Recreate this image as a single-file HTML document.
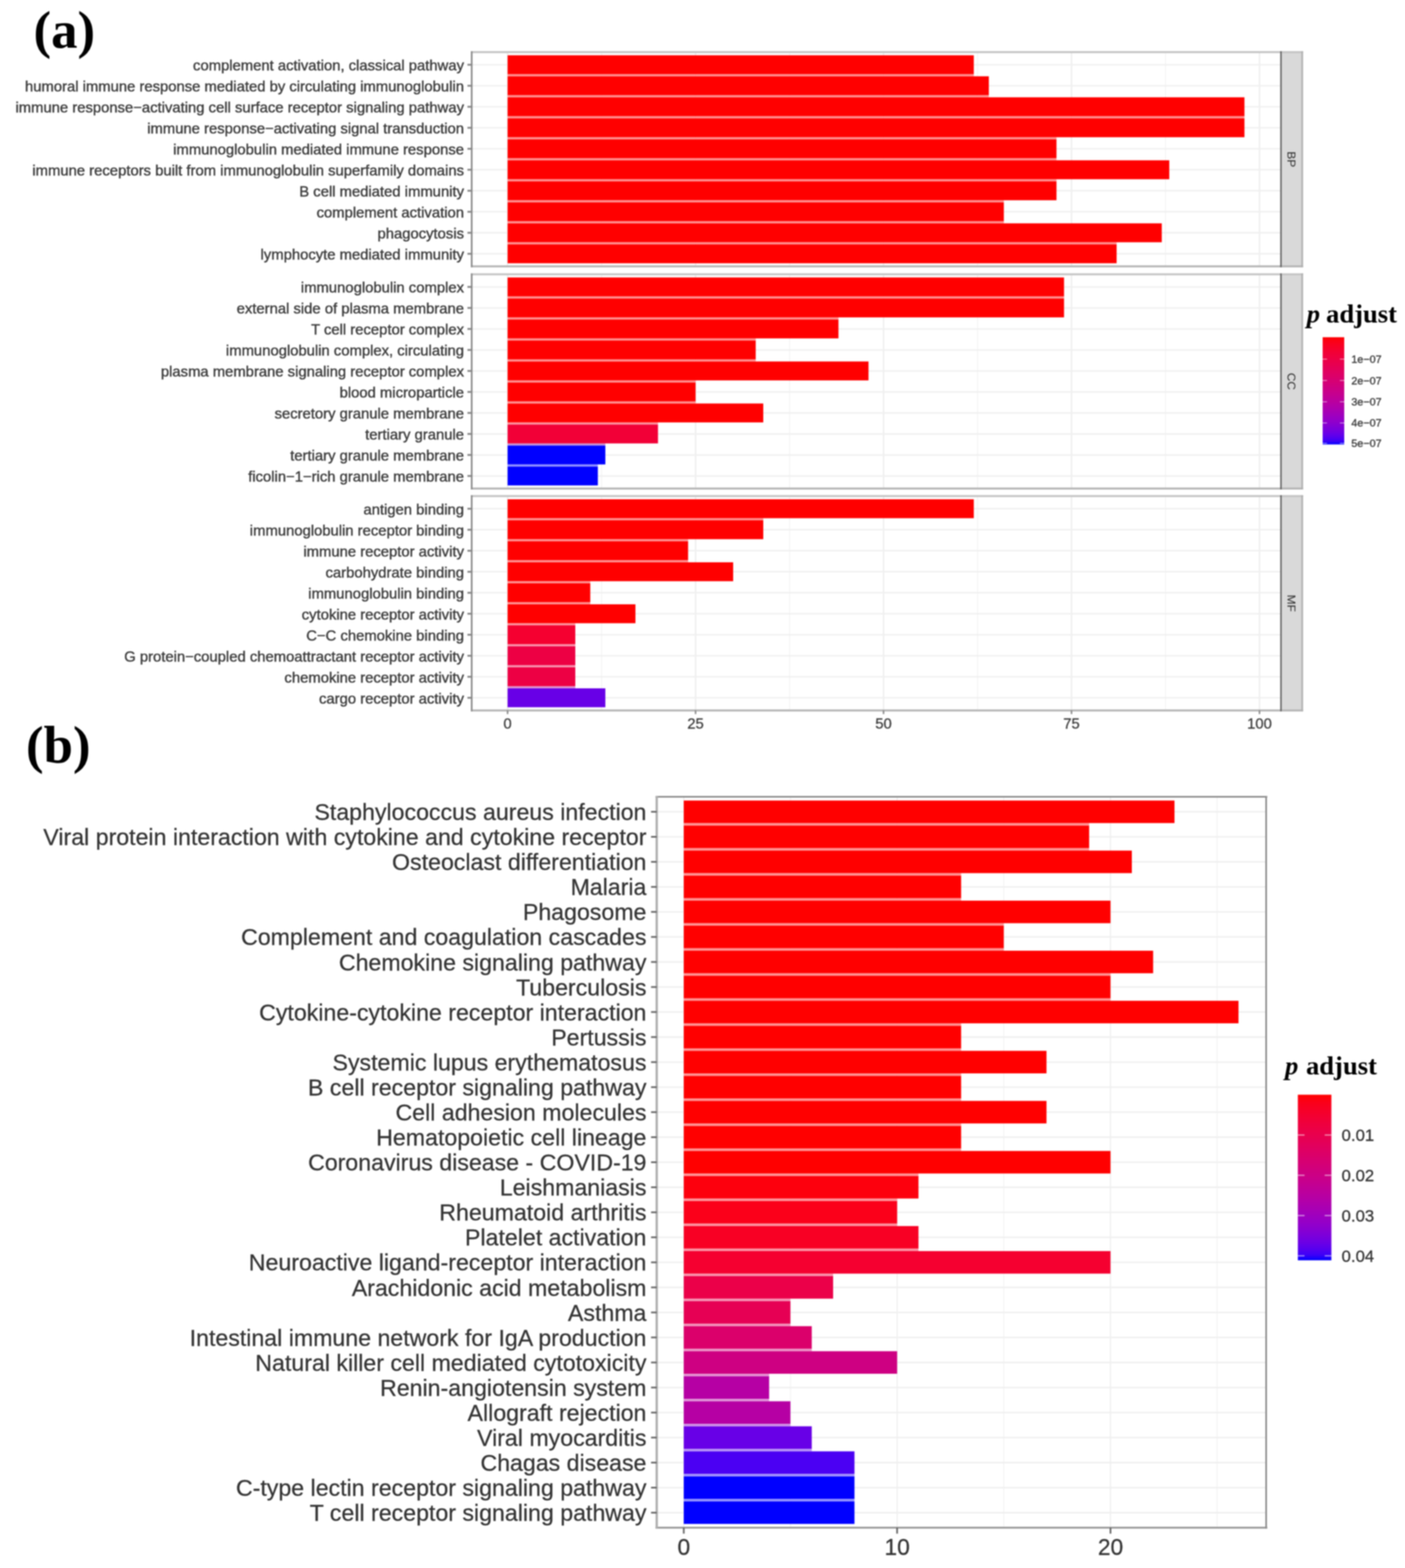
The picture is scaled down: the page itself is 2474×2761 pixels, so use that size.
<!DOCTYPE html>
<html><head><meta charset="utf-8"><title>GO and KEGG enrichment</title>
<style>html,body{margin:0;padding:0;background:#fff;}body{width:2474px;height:2761px;overflow:hidden;}svg{display:block;filter:blur(1px);}</style>
</head><body>
<svg width="2474" height="2761" viewBox="0 0 2474 2761"><defs><linearGradient id="ga" x1="0" y1="0" x2="0" y2="1"><stop offset="0.000" stop-color="#FF0000"/><stop offset="0.033" stop-color="#FC0013"/><stop offset="0.067" stop-color="#F90020"/><stop offset="0.100" stop-color="#F6002A"/><stop offset="0.133" stop-color="#F30033"/><stop offset="0.167" stop-color="#F0003C"/><stop offset="0.200" stop-color="#ED0044"/><stop offset="0.233" stop-color="#EA004C"/><stop offset="0.267" stop-color="#E60053"/><stop offset="0.300" stop-color="#E3005B"/><stop offset="0.333" stop-color="#DF0063"/><stop offset="0.367" stop-color="#DB006A"/><stop offset="0.400" stop-color="#D70072"/><stop offset="0.433" stop-color="#D30079"/><stop offset="0.467" stop-color="#CE0081"/><stop offset="0.500" stop-color="#CA0088"/><stop offset="0.533" stop-color="#C50090"/><stop offset="0.567" stop-color="#BF0098"/><stop offset="0.600" stop-color="#BA009F"/><stop offset="0.633" stop-color="#B400A7"/><stop offset="0.667" stop-color="#AD00AF"/><stop offset="0.700" stop-color="#A600B7"/><stop offset="0.733" stop-color="#9E00BF"/><stop offset="0.767" stop-color="#9600C7"/><stop offset="0.800" stop-color="#8D00CE"/><stop offset="0.833" stop-color="#8200D6"/><stop offset="0.867" stop-color="#7600DE"/><stop offset="0.900" stop-color="#6800E7"/><stop offset="0.933" stop-color="#5600EF"/><stop offset="0.967" stop-color="#3E00F7"/><stop offset="1.000" stop-color="#0000FF"/></linearGradient><linearGradient id="gb" x1="0" y1="0" x2="0" y2="1"><stop offset="0.000" stop-color="#FF0000"/><stop offset="0.033" stop-color="#FC0013"/><stop offset="0.067" stop-color="#F90020"/><stop offset="0.100" stop-color="#F6002A"/><stop offset="0.133" stop-color="#F30033"/><stop offset="0.167" stop-color="#F0003C"/><stop offset="0.200" stop-color="#ED0044"/><stop offset="0.233" stop-color="#EA004C"/><stop offset="0.267" stop-color="#E60053"/><stop offset="0.300" stop-color="#E3005B"/><stop offset="0.333" stop-color="#DF0063"/><stop offset="0.367" stop-color="#DB006A"/><stop offset="0.400" stop-color="#D70072"/><stop offset="0.433" stop-color="#D30079"/><stop offset="0.467" stop-color="#CE0081"/><stop offset="0.500" stop-color="#CA0088"/><stop offset="0.533" stop-color="#C50090"/><stop offset="0.567" stop-color="#BF0098"/><stop offset="0.600" stop-color="#BA009F"/><stop offset="0.633" stop-color="#B400A7"/><stop offset="0.667" stop-color="#AD00AF"/><stop offset="0.700" stop-color="#A600B7"/><stop offset="0.733" stop-color="#9E00BF"/><stop offset="0.767" stop-color="#9600C7"/><stop offset="0.800" stop-color="#8D00CE"/><stop offset="0.833" stop-color="#8200D6"/><stop offset="0.867" stop-color="#7600DE"/><stop offset="0.900" stop-color="#6800E7"/><stop offset="0.933" stop-color="#5600EF"/><stop offset="0.967" stop-color="#3E00F7"/><stop offset="1.000" stop-color="#0000FF"/></linearGradient></defs><rect width="2474" height="2761" fill="#fff"/><rect x="830.6" y="91.8" width="1425.0" height="377.3" fill="#fff"/>
<line x1="1059.3" y1="91.8" x2="1059.3" y2="469.1" stroke="#EDEDED" stroke-width="1.1"/>
<line x1="1390.3" y1="91.8" x2="1390.3" y2="469.1" stroke="#EDEDED" stroke-width="1.1"/>
<line x1="1721.3" y1="91.8" x2="1721.3" y2="469.1" stroke="#EDEDED" stroke-width="1.1"/>
<line x1="2052.3" y1="91.8" x2="2052.3" y2="469.1" stroke="#EDEDED" stroke-width="1.1"/>
<line x1="893.8" y1="91.8" x2="893.8" y2="469.1" stroke="#EDEDED" stroke-width="2.4"/>
<line x1="1224.8" y1="91.8" x2="1224.8" y2="469.1" stroke="#EDEDED" stroke-width="2.4"/>
<line x1="1555.8" y1="91.8" x2="1555.8" y2="469.1" stroke="#EDEDED" stroke-width="2.4"/>
<line x1="1886.8" y1="91.8" x2="1886.8" y2="469.1" stroke="#EDEDED" stroke-width="2.4"/>
<line x1="2217.8" y1="91.8" x2="2217.8" y2="469.1" stroke="#EDEDED" stroke-width="2.4"/>
<line x1="830.6" y1="114.0" x2="2255.6" y2="114.0" stroke="#F0F0F0" stroke-width="2.6"/>
<line x1="830.6" y1="151.0" x2="2255.6" y2="151.0" stroke="#F0F0F0" stroke-width="2.6"/>
<line x1="830.6" y1="188.0" x2="2255.6" y2="188.0" stroke="#F0F0F0" stroke-width="2.6"/>
<line x1="830.6" y1="225.0" x2="2255.6" y2="225.0" stroke="#F0F0F0" stroke-width="2.6"/>
<line x1="830.6" y1="262.0" x2="2255.6" y2="262.0" stroke="#F0F0F0" stroke-width="2.6"/>
<line x1="830.6" y1="298.9" x2="2255.6" y2="298.9" stroke="#F0F0F0" stroke-width="2.6"/>
<line x1="830.6" y1="335.9" x2="2255.6" y2="335.9" stroke="#F0F0F0" stroke-width="2.6"/>
<line x1="830.6" y1="372.9" x2="2255.6" y2="372.9" stroke="#F0F0F0" stroke-width="2.6"/>
<line x1="830.6" y1="409.9" x2="2255.6" y2="409.9" stroke="#F0F0F0" stroke-width="2.6"/>
<line x1="830.6" y1="446.9" x2="2255.6" y2="446.9" stroke="#F0F0F0" stroke-width="2.6"/>
<rect x="893.8" y="130.64" width="820.9" height="3.70" fill="#FF9494"/>
<rect x="893.8" y="167.63" width="847.4" height="3.70" fill="#FF9494"/>
<rect x="893.8" y="204.62" width="1297.5" height="3.70" fill="#FF9494"/>
<rect x="893.8" y="241.61" width="966.5" height="3.70" fill="#FF9494"/>
<rect x="893.8" y="278.60" width="966.5" height="3.70" fill="#FF9494"/>
<rect x="893.8" y="315.59" width="966.5" height="3.70" fill="#FF9494"/>
<rect x="893.8" y="352.58" width="873.8" height="3.70" fill="#FF9494"/>
<rect x="893.8" y="389.57" width="873.8" height="3.70" fill="#FF9494"/>
<rect x="893.8" y="426.56" width="1072.4" height="3.70" fill="#FF9494"/>
<rect x="893.8" y="97.35" width="820.9" height="33.29" fill="#FF0000"/>
<rect x="893.8" y="134.34" width="847.4" height="33.29" fill="#FF0000"/>
<rect x="893.8" y="171.33" width="1297.5" height="33.29" fill="#FF0000"/>
<rect x="893.8" y="208.32" width="1297.5" height="33.29" fill="#FF0000"/>
<rect x="893.8" y="245.31" width="966.5" height="33.29" fill="#FF0000"/>
<rect x="893.8" y="282.30" width="1165.1" height="33.29" fill="#FF0000"/>
<rect x="893.8" y="319.29" width="966.5" height="33.29" fill="#FF0000"/>
<rect x="893.8" y="356.28" width="873.8" height="33.29" fill="#FF0000"/>
<rect x="893.8" y="393.27" width="1151.9" height="33.29" fill="#FF0000"/>
<rect x="893.8" y="430.26" width="1072.4" height="33.29" fill="#FF0000"/>
<rect x="2255.6" y="91.8" width="37.4" height="377.3" fill="#D9D9D9"/>
<line x1="829.1" y1="91.8" x2="2294.5" y2="91.8" stroke="#C4C4C4" stroke-width="3.5"/>
<line x1="829.1" y1="469.1" x2="2294.5" y2="469.1" stroke="#B4B4B4" stroke-width="3.5"/>
<line x1="830.6" y1="90.3" x2="830.6" y2="470.6" stroke="#8C8C8C" stroke-width="3"/>
<line x1="2255.6" y1="90.3" x2="2255.6" y2="470.6" stroke="#5E5E5E" stroke-width="2.5"/>
<line x1="2293.0" y1="90.3" x2="2293.0" y2="470.6" stroke="#B0B0B0" stroke-width="3"/>
<text x="0" y="0" transform="translate(2274.3,280.4) rotate(90)" font-family="'Liberation Sans', Arial, Helvetica, sans-serif" font-size="21" fill="#2E2E2E" text-anchor="middle" dy="7.5">BP</text>
<line x1="823.1" y1="114.0" x2="830.6" y2="114.0" stroke="#858585" stroke-width="3.2"/>
<text x="817" y="124.2" font-family="'Liberation Sans', Arial, Helvetica, sans-serif" font-size="26.1" fill="#3C3C3C" stroke="#3C3C3C" stroke-width="0.6" text-anchor="end">complement activation, classical pathway</text>
<line x1="823.1" y1="151.0" x2="830.6" y2="151.0" stroke="#858585" stroke-width="3.2"/>
<text x="817" y="161.2" font-family="'Liberation Sans', Arial, Helvetica, sans-serif" font-size="26.1" fill="#3C3C3C" stroke="#3C3C3C" stroke-width="0.6" text-anchor="end">humoral immune response mediated by circulating immunoglobulin</text>
<line x1="823.1" y1="188.0" x2="830.6" y2="188.0" stroke="#858585" stroke-width="3.2"/>
<text x="817" y="198.2" font-family="'Liberation Sans', Arial, Helvetica, sans-serif" font-size="26.1" fill="#3C3C3C" stroke="#3C3C3C" stroke-width="0.6" text-anchor="end">immune response−activating cell surface receptor signaling pathway</text>
<line x1="823.1" y1="225.0" x2="830.6" y2="225.0" stroke="#858585" stroke-width="3.2"/>
<text x="817" y="235.2" font-family="'Liberation Sans', Arial, Helvetica, sans-serif" font-size="26.1" fill="#3C3C3C" stroke="#3C3C3C" stroke-width="0.6" text-anchor="end">immune response−activating signal transduction</text>
<line x1="823.1" y1="262.0" x2="830.6" y2="262.0" stroke="#858585" stroke-width="3.2"/>
<text x="817" y="272.2" font-family="'Liberation Sans', Arial, Helvetica, sans-serif" font-size="26.1" fill="#3C3C3C" stroke="#3C3C3C" stroke-width="0.6" text-anchor="end">immunoglobulin mediated immune response</text>
<line x1="823.1" y1="298.9" x2="830.6" y2="298.9" stroke="#858585" stroke-width="3.2"/>
<text x="817" y="309.1" font-family="'Liberation Sans', Arial, Helvetica, sans-serif" font-size="26.1" fill="#3C3C3C" stroke="#3C3C3C" stroke-width="0.6" text-anchor="end">immune receptors built from immunoglobulin superfamily domains</text>
<line x1="823.1" y1="335.9" x2="830.6" y2="335.9" stroke="#858585" stroke-width="3.2"/>
<text x="817" y="346.1" font-family="'Liberation Sans', Arial, Helvetica, sans-serif" font-size="26.1" fill="#3C3C3C" stroke="#3C3C3C" stroke-width="0.6" text-anchor="end">B cell mediated immunity</text>
<line x1="823.1" y1="372.9" x2="830.6" y2="372.9" stroke="#858585" stroke-width="3.2"/>
<text x="817" y="383.1" font-family="'Liberation Sans', Arial, Helvetica, sans-serif" font-size="26.1" fill="#3C3C3C" stroke="#3C3C3C" stroke-width="0.6" text-anchor="end">complement activation</text>
<line x1="823.1" y1="409.9" x2="830.6" y2="409.9" stroke="#858585" stroke-width="3.2"/>
<text x="817" y="420.1" font-family="'Liberation Sans', Arial, Helvetica, sans-serif" font-size="26.1" fill="#3C3C3C" stroke="#3C3C3C" stroke-width="0.6" text-anchor="end">phagocytosis</text>
<line x1="823.1" y1="446.9" x2="830.6" y2="446.9" stroke="#858585" stroke-width="3.2"/>
<text x="817" y="457.1" font-family="'Liberation Sans', Arial, Helvetica, sans-serif" font-size="26.1" fill="#3C3C3C" stroke="#3C3C3C" stroke-width="0.6" text-anchor="end">lymphocyte mediated immunity</text>
<rect x="830.6" y="483.0" width="1425.0" height="377.3" fill="#fff"/>
<line x1="1059.3" y1="483.0" x2="1059.3" y2="860.3" stroke="#EDEDED" stroke-width="1.1"/>
<line x1="1390.3" y1="483.0" x2="1390.3" y2="860.3" stroke="#EDEDED" stroke-width="1.1"/>
<line x1="1721.3" y1="483.0" x2="1721.3" y2="860.3" stroke="#EDEDED" stroke-width="1.1"/>
<line x1="2052.3" y1="483.0" x2="2052.3" y2="860.3" stroke="#EDEDED" stroke-width="1.1"/>
<line x1="893.8" y1="483.0" x2="893.8" y2="860.3" stroke="#EDEDED" stroke-width="2.4"/>
<line x1="1224.8" y1="483.0" x2="1224.8" y2="860.3" stroke="#EDEDED" stroke-width="2.4"/>
<line x1="1555.8" y1="483.0" x2="1555.8" y2="860.3" stroke="#EDEDED" stroke-width="2.4"/>
<line x1="1886.8" y1="483.0" x2="1886.8" y2="860.3" stroke="#EDEDED" stroke-width="2.4"/>
<line x1="2217.8" y1="483.0" x2="2217.8" y2="860.3" stroke="#EDEDED" stroke-width="2.4"/>
<line x1="830.6" y1="505.2" x2="2255.6" y2="505.2" stroke="#F0F0F0" stroke-width="2.6"/>
<line x1="830.6" y1="542.2" x2="2255.6" y2="542.2" stroke="#F0F0F0" stroke-width="2.6"/>
<line x1="830.6" y1="579.2" x2="2255.6" y2="579.2" stroke="#F0F0F0" stroke-width="2.6"/>
<line x1="830.6" y1="616.2" x2="2255.6" y2="616.2" stroke="#F0F0F0" stroke-width="2.6"/>
<line x1="830.6" y1="653.2" x2="2255.6" y2="653.2" stroke="#F0F0F0" stroke-width="2.6"/>
<line x1="830.6" y1="690.1" x2="2255.6" y2="690.1" stroke="#F0F0F0" stroke-width="2.6"/>
<line x1="830.6" y1="727.1" x2="2255.6" y2="727.1" stroke="#F0F0F0" stroke-width="2.6"/>
<line x1="830.6" y1="764.1" x2="2255.6" y2="764.1" stroke="#F0F0F0" stroke-width="2.6"/>
<line x1="830.6" y1="801.1" x2="2255.6" y2="801.1" stroke="#F0F0F0" stroke-width="2.6"/>
<line x1="830.6" y1="838.1" x2="2255.6" y2="838.1" stroke="#F0F0F0" stroke-width="2.6"/>
<rect x="893.8" y="521.84" width="979.8" height="3.70" fill="#FF9494"/>
<rect x="893.8" y="558.83" width="582.6" height="3.70" fill="#FF9494"/>
<rect x="893.8" y="595.82" width="436.9" height="3.70" fill="#FF9494"/>
<rect x="893.8" y="632.81" width="436.9" height="3.70" fill="#FF9494"/>
<rect x="893.8" y="669.80" width="331.0" height="3.70" fill="#FF9494"/>
<rect x="893.8" y="706.79" width="331.0" height="3.70" fill="#FF9494"/>
<rect x="893.8" y="743.78" width="264.8" height="3.70" fill="#FC949F"/>
<rect x="893.8" y="780.77" width="172.1" height="3.70" fill="#C794D5"/>
<rect x="893.8" y="817.76" width="158.9" height="3.70" fill="#9494FF"/>
<rect x="893.8" y="488.55" width="979.8" height="33.29" fill="#FF0000"/>
<rect x="893.8" y="525.54" width="979.8" height="33.29" fill="#FF0000"/>
<rect x="893.8" y="562.53" width="582.6" height="33.29" fill="#FF0000"/>
<rect x="893.8" y="599.52" width="436.9" height="33.29" fill="#FF0000"/>
<rect x="893.8" y="636.51" width="635.5" height="33.29" fill="#FF0000"/>
<rect x="893.8" y="673.50" width="331.0" height="33.29" fill="#FF0000"/>
<rect x="893.8" y="710.49" width="450.2" height="33.29" fill="#FF0000"/>
<rect x="893.8" y="747.48" width="264.8" height="33.29" fill="#F20037"/>
<rect x="893.8" y="784.47" width="172.1" height="33.29" fill="#0000FF"/>
<rect x="893.8" y="821.46" width="158.9" height="33.29" fill="#0000FF"/>
<rect x="2255.6" y="483.0" width="37.4" height="377.3" fill="#D9D9D9"/>
<line x1="829.1" y1="483.0" x2="2294.5" y2="483.0" stroke="#C4C4C4" stroke-width="3.5"/>
<line x1="829.1" y1="860.3" x2="2294.5" y2="860.3" stroke="#B4B4B4" stroke-width="3.5"/>
<line x1="830.6" y1="481.5" x2="830.6" y2="861.8" stroke="#8C8C8C" stroke-width="3"/>
<line x1="2255.6" y1="481.5" x2="2255.6" y2="861.8" stroke="#5E5E5E" stroke-width="2.5"/>
<line x1="2293.0" y1="481.5" x2="2293.0" y2="861.8" stroke="#B0B0B0" stroke-width="3"/>
<text x="0" y="0" transform="translate(2274.3,671.6) rotate(90)" font-family="'Liberation Sans', Arial, Helvetica, sans-serif" font-size="21" fill="#2E2E2E" text-anchor="middle" dy="7.5">CC</text>
<line x1="823.1" y1="505.2" x2="830.6" y2="505.2" stroke="#858585" stroke-width="3.2"/>
<text x="817" y="515.4" font-family="'Liberation Sans', Arial, Helvetica, sans-serif" font-size="26.1" fill="#3C3C3C" stroke="#3C3C3C" stroke-width="0.6" text-anchor="end">immunoglobulin complex</text>
<line x1="823.1" y1="542.2" x2="830.6" y2="542.2" stroke="#858585" stroke-width="3.2"/>
<text x="817" y="552.4" font-family="'Liberation Sans', Arial, Helvetica, sans-serif" font-size="26.1" fill="#3C3C3C" stroke="#3C3C3C" stroke-width="0.6" text-anchor="end">external side of plasma membrane</text>
<line x1="823.1" y1="579.2" x2="830.6" y2="579.2" stroke="#858585" stroke-width="3.2"/>
<text x="817" y="589.4" font-family="'Liberation Sans', Arial, Helvetica, sans-serif" font-size="26.1" fill="#3C3C3C" stroke="#3C3C3C" stroke-width="0.6" text-anchor="end">T cell receptor complex</text>
<line x1="823.1" y1="616.2" x2="830.6" y2="616.2" stroke="#858585" stroke-width="3.2"/>
<text x="817" y="626.4" font-family="'Liberation Sans', Arial, Helvetica, sans-serif" font-size="26.1" fill="#3C3C3C" stroke="#3C3C3C" stroke-width="0.6" text-anchor="end">immunoglobulin complex, circulating</text>
<line x1="823.1" y1="653.2" x2="830.6" y2="653.2" stroke="#858585" stroke-width="3.2"/>
<text x="817" y="663.4" font-family="'Liberation Sans', Arial, Helvetica, sans-serif" font-size="26.1" fill="#3C3C3C" stroke="#3C3C3C" stroke-width="0.6" text-anchor="end">plasma membrane signaling receptor complex</text>
<line x1="823.1" y1="690.1" x2="830.6" y2="690.1" stroke="#858585" stroke-width="3.2"/>
<text x="817" y="700.3" font-family="'Liberation Sans', Arial, Helvetica, sans-serif" font-size="26.1" fill="#3C3C3C" stroke="#3C3C3C" stroke-width="0.6" text-anchor="end">blood microparticle</text>
<line x1="823.1" y1="727.1" x2="830.6" y2="727.1" stroke="#858585" stroke-width="3.2"/>
<text x="817" y="737.3" font-family="'Liberation Sans', Arial, Helvetica, sans-serif" font-size="26.1" fill="#3C3C3C" stroke="#3C3C3C" stroke-width="0.6" text-anchor="end">secretory granule membrane</text>
<line x1="823.1" y1="764.1" x2="830.6" y2="764.1" stroke="#858585" stroke-width="3.2"/>
<text x="817" y="774.3" font-family="'Liberation Sans', Arial, Helvetica, sans-serif" font-size="26.1" fill="#3C3C3C" stroke="#3C3C3C" stroke-width="0.6" text-anchor="end">tertiary granule</text>
<line x1="823.1" y1="801.1" x2="830.6" y2="801.1" stroke="#858585" stroke-width="3.2"/>
<text x="817" y="811.3" font-family="'Liberation Sans', Arial, Helvetica, sans-serif" font-size="26.1" fill="#3C3C3C" stroke="#3C3C3C" stroke-width="0.6" text-anchor="end">tertiary granule membrane</text>
<line x1="823.1" y1="838.1" x2="830.6" y2="838.1" stroke="#858585" stroke-width="3.2"/>
<text x="817" y="848.3" font-family="'Liberation Sans', Arial, Helvetica, sans-serif" font-size="26.1" fill="#3C3C3C" stroke="#3C3C3C" stroke-width="0.6" text-anchor="end">ficolin−1−rich granule membrane</text>
<rect x="830.6" y="873.6" width="1425.0" height="377.3" fill="#fff"/>
<line x1="1059.3" y1="873.6" x2="1059.3" y2="1250.9" stroke="#EDEDED" stroke-width="1.1"/>
<line x1="1390.3" y1="873.6" x2="1390.3" y2="1250.9" stroke="#EDEDED" stroke-width="1.1"/>
<line x1="1721.3" y1="873.6" x2="1721.3" y2="1250.9" stroke="#EDEDED" stroke-width="1.1"/>
<line x1="2052.3" y1="873.6" x2="2052.3" y2="1250.9" stroke="#EDEDED" stroke-width="1.1"/>
<line x1="893.8" y1="873.6" x2="893.8" y2="1250.9" stroke="#EDEDED" stroke-width="2.4"/>
<line x1="1224.8" y1="873.6" x2="1224.8" y2="1250.9" stroke="#EDEDED" stroke-width="2.4"/>
<line x1="1555.8" y1="873.6" x2="1555.8" y2="1250.9" stroke="#EDEDED" stroke-width="2.4"/>
<line x1="1886.8" y1="873.6" x2="1886.8" y2="1250.9" stroke="#EDEDED" stroke-width="2.4"/>
<line x1="2217.8" y1="873.6" x2="2217.8" y2="1250.9" stroke="#EDEDED" stroke-width="2.4"/>
<line x1="830.6" y1="895.8" x2="2255.6" y2="895.8" stroke="#F0F0F0" stroke-width="2.6"/>
<line x1="830.6" y1="932.8" x2="2255.6" y2="932.8" stroke="#F0F0F0" stroke-width="2.6"/>
<line x1="830.6" y1="969.8" x2="2255.6" y2="969.8" stroke="#F0F0F0" stroke-width="2.6"/>
<line x1="830.6" y1="1006.8" x2="2255.6" y2="1006.8" stroke="#F0F0F0" stroke-width="2.6"/>
<line x1="830.6" y1="1043.8" x2="2255.6" y2="1043.8" stroke="#F0F0F0" stroke-width="2.6"/>
<line x1="830.6" y1="1080.7" x2="2255.6" y2="1080.7" stroke="#F0F0F0" stroke-width="2.6"/>
<line x1="830.6" y1="1117.7" x2="2255.6" y2="1117.7" stroke="#F0F0F0" stroke-width="2.6"/>
<line x1="830.6" y1="1154.7" x2="2255.6" y2="1154.7" stroke="#F0F0F0" stroke-width="2.6"/>
<line x1="830.6" y1="1191.7" x2="2255.6" y2="1191.7" stroke="#F0F0F0" stroke-width="2.6"/>
<line x1="830.6" y1="1228.7" x2="2255.6" y2="1228.7" stroke="#F0F0F0" stroke-width="2.6"/>
<rect x="893.8" y="912.44" width="450.2" height="3.70" fill="#FF9494"/>
<rect x="893.8" y="949.43" width="317.8" height="3.70" fill="#FF9494"/>
<rect x="893.8" y="986.42" width="317.8" height="3.70" fill="#FF9494"/>
<rect x="893.8" y="1023.41" width="145.6" height="3.70" fill="#FF9494"/>
<rect x="893.8" y="1060.40" width="145.6" height="3.70" fill="#FF9494"/>
<rect x="893.8" y="1097.39" width="119.2" height="3.70" fill="#FD949E"/>
<rect x="893.8" y="1134.38" width="119.2" height="3.70" fill="#F994AC"/>
<rect x="893.8" y="1171.37" width="119.2" height="3.70" fill="#F794B0"/>
<rect x="893.8" y="1208.36" width="119.2" height="3.70" fill="#DC94D3"/>
<rect x="893.8" y="879.15" width="820.9" height="33.29" fill="#FF0000"/>
<rect x="893.8" y="916.14" width="450.2" height="33.29" fill="#FF0000"/>
<rect x="893.8" y="953.13" width="317.8" height="33.29" fill="#FF0000"/>
<rect x="893.8" y="990.12" width="397.2" height="33.29" fill="#FF0000"/>
<rect x="893.8" y="1027.11" width="145.6" height="33.29" fill="#FF0000"/>
<rect x="893.8" y="1064.10" width="225.1" height="33.29" fill="#FF0000"/>
<rect x="893.8" y="1101.09" width="119.2" height="33.29" fill="#F50030"/>
<rect x="893.8" y="1138.08" width="119.2" height="33.29" fill="#ED0044"/>
<rect x="893.8" y="1175.07" width="119.2" height="33.29" fill="#ED0044"/>
<rect x="893.8" y="1212.06" width="172.1" height="33.29" fill="#6800E7"/>
<rect x="2255.6" y="873.6" width="37.4" height="377.3" fill="#D9D9D9"/>
<line x1="829.1" y1="873.6" x2="2294.5" y2="873.6" stroke="#C4C4C4" stroke-width="3.5"/>
<line x1="829.1" y1="1250.9" x2="2294.5" y2="1250.9" stroke="#B4B4B4" stroke-width="3.5"/>
<line x1="830.6" y1="872.1" x2="830.6" y2="1252.4" stroke="#8C8C8C" stroke-width="3"/>
<line x1="2255.6" y1="872.1" x2="2255.6" y2="1252.4" stroke="#5E5E5E" stroke-width="2.5"/>
<line x1="2293.0" y1="872.1" x2="2293.0" y2="1252.4" stroke="#B0B0B0" stroke-width="3"/>
<text x="0" y="0" transform="translate(2274.3,1062.2) rotate(90)" font-family="'Liberation Sans', Arial, Helvetica, sans-serif" font-size="21" fill="#2E2E2E" text-anchor="middle" dy="7.5">MF</text>
<line x1="823.1" y1="895.8" x2="830.6" y2="895.8" stroke="#858585" stroke-width="3.2"/>
<text x="817" y="906.0" font-family="'Liberation Sans', Arial, Helvetica, sans-serif" font-size="26.1" fill="#3C3C3C" stroke="#3C3C3C" stroke-width="0.6" text-anchor="end">antigen binding</text>
<line x1="823.1" y1="932.8" x2="830.6" y2="932.8" stroke="#858585" stroke-width="3.2"/>
<text x="817" y="943.0" font-family="'Liberation Sans', Arial, Helvetica, sans-serif" font-size="26.1" fill="#3C3C3C" stroke="#3C3C3C" stroke-width="0.6" text-anchor="end">immunoglobulin receptor binding</text>
<line x1="823.1" y1="969.8" x2="830.6" y2="969.8" stroke="#858585" stroke-width="3.2"/>
<text x="817" y="980.0" font-family="'Liberation Sans', Arial, Helvetica, sans-serif" font-size="26.1" fill="#3C3C3C" stroke="#3C3C3C" stroke-width="0.6" text-anchor="end">immune receptor activity</text>
<line x1="823.1" y1="1006.8" x2="830.6" y2="1006.8" stroke="#858585" stroke-width="3.2"/>
<text x="817" y="1017.0" font-family="'Liberation Sans', Arial, Helvetica, sans-serif" font-size="26.1" fill="#3C3C3C" stroke="#3C3C3C" stroke-width="0.6" text-anchor="end">carbohydrate binding</text>
<line x1="823.1" y1="1043.8" x2="830.6" y2="1043.8" stroke="#858585" stroke-width="3.2"/>
<text x="817" y="1054.0" font-family="'Liberation Sans', Arial, Helvetica, sans-serif" font-size="26.1" fill="#3C3C3C" stroke="#3C3C3C" stroke-width="0.6" text-anchor="end">immunoglobulin binding</text>
<line x1="823.1" y1="1080.7" x2="830.6" y2="1080.7" stroke="#858585" stroke-width="3.2"/>
<text x="817" y="1090.9" font-family="'Liberation Sans', Arial, Helvetica, sans-serif" font-size="26.1" fill="#3C3C3C" stroke="#3C3C3C" stroke-width="0.6" text-anchor="end">cytokine receptor activity</text>
<line x1="823.1" y1="1117.7" x2="830.6" y2="1117.7" stroke="#858585" stroke-width="3.2"/>
<text x="817" y="1127.9" font-family="'Liberation Sans', Arial, Helvetica, sans-serif" font-size="26.1" fill="#3C3C3C" stroke="#3C3C3C" stroke-width="0.6" text-anchor="end">C−C chemokine binding</text>
<line x1="823.1" y1="1154.7" x2="830.6" y2="1154.7" stroke="#858585" stroke-width="3.2"/>
<text x="817" y="1164.9" font-family="'Liberation Sans', Arial, Helvetica, sans-serif" font-size="26.1" fill="#3C3C3C" stroke="#3C3C3C" stroke-width="0.6" text-anchor="end">G protein−coupled chemoattractant receptor activity</text>
<line x1="823.1" y1="1191.7" x2="830.6" y2="1191.7" stroke="#858585" stroke-width="3.2"/>
<text x="817" y="1201.9" font-family="'Liberation Sans', Arial, Helvetica, sans-serif" font-size="26.1" fill="#3C3C3C" stroke="#3C3C3C" stroke-width="0.6" text-anchor="end">chemokine receptor activity</text>
<line x1="823.1" y1="1228.7" x2="830.6" y2="1228.7" stroke="#858585" stroke-width="3.2"/>
<text x="817" y="1238.9" font-family="'Liberation Sans', Arial, Helvetica, sans-serif" font-size="26.1" fill="#3C3C3C" stroke="#3C3C3C" stroke-width="0.6" text-anchor="end">cargo receptor activity</text>
<line x1="893.8" y1="1250.9" x2="893.8" y2="1257.4" stroke="#858585" stroke-width="2.6"/>
<text x="893.8" y="1283" font-family="'Liberation Sans', Arial, Helvetica, sans-serif" font-size="26.1" fill="#3C3C3C" stroke="#3C3C3C" stroke-width="0.45" text-anchor="middle">0</text>
<line x1="1224.8" y1="1250.9" x2="1224.8" y2="1257.4" stroke="#858585" stroke-width="2.6"/>
<text x="1224.8" y="1283" font-family="'Liberation Sans', Arial, Helvetica, sans-serif" font-size="26.1" fill="#3C3C3C" stroke="#3C3C3C" stroke-width="0.45" text-anchor="middle">25</text>
<line x1="1555.8" y1="1250.9" x2="1555.8" y2="1257.4" stroke="#858585" stroke-width="2.6"/>
<text x="1555.8" y="1283" font-family="'Liberation Sans', Arial, Helvetica, sans-serif" font-size="26.1" fill="#3C3C3C" stroke="#3C3C3C" stroke-width="0.45" text-anchor="middle">50</text>
<line x1="1886.8" y1="1250.9" x2="1886.8" y2="1257.4" stroke="#858585" stroke-width="2.6"/>
<text x="1886.8" y="1283" font-family="'Liberation Sans', Arial, Helvetica, sans-serif" font-size="26.1" fill="#3C3C3C" stroke="#3C3C3C" stroke-width="0.45" text-anchor="middle">75</text>
<line x1="2217.8" y1="1250.9" x2="2217.8" y2="1257.4" stroke="#858585" stroke-width="2.6"/>
<text x="2217.8" y="1283" font-family="'Liberation Sans', Arial, Helvetica, sans-serif" font-size="26.1" fill="#3C3C3C" stroke="#3C3C3C" stroke-width="0.45" text-anchor="middle">100</text>
<text y="567.6" font-family="'Liberation Serif', 'Times New Roman', serif" font-size="46.8" font-weight="bold" fill="#000"><tspan x="2300.9" font-style="italic">p </tspan><tspan x="2335.0">adjust</tspan></text>
<rect x="2329" y="593.8" width="38" height="188.8" fill="url(#ga)"/>
<line x1="2329" y1="632.4" x2="2336.6" y2="632.4" stroke="#fff" stroke-opacity="0.6" stroke-width="1.5"/>
<line x1="2359.4" y1="632.4" x2="2367" y2="632.4" stroke="#fff" stroke-opacity="0.6" stroke-width="1.5"/>
<text x="2379.5" y="638.9" font-family="'Liberation Sans', Arial, Helvetica, sans-serif" font-size="19" fill="#3A3A3A" stroke="#3A3A3A" stroke-width="0.5">1e−07</text>
<line x1="2329" y1="670.0" x2="2336.6" y2="670.0" stroke="#fff" stroke-opacity="0.6" stroke-width="1.5"/>
<line x1="2359.4" y1="670.0" x2="2367" y2="670.0" stroke="#fff" stroke-opacity="0.6" stroke-width="1.5"/>
<text x="2379.5" y="676.5" font-family="'Liberation Sans', Arial, Helvetica, sans-serif" font-size="19" fill="#3A3A3A" stroke="#3A3A3A" stroke-width="0.5">2e−07</text>
<line x1="2329" y1="707.5" x2="2336.6" y2="707.5" stroke="#fff" stroke-opacity="0.6" stroke-width="1.5"/>
<line x1="2359.4" y1="707.5" x2="2367" y2="707.5" stroke="#fff" stroke-opacity="0.6" stroke-width="1.5"/>
<text x="2379.5" y="714.0" font-family="'Liberation Sans', Arial, Helvetica, sans-serif" font-size="19" fill="#3A3A3A" stroke="#3A3A3A" stroke-width="0.5">3e−07</text>
<line x1="2329" y1="744.7" x2="2336.6" y2="744.7" stroke="#fff" stroke-opacity="0.6" stroke-width="1.5"/>
<line x1="2359.4" y1="744.7" x2="2367" y2="744.7" stroke="#fff" stroke-opacity="0.6" stroke-width="1.5"/>
<text x="2379.5" y="751.2" font-family="'Liberation Sans', Arial, Helvetica, sans-serif" font-size="19" fill="#3A3A3A" stroke="#3A3A3A" stroke-width="0.5">4e−07</text>
<line x1="2329" y1="780.6" x2="2336.6" y2="780.6" stroke="#fff" stroke-opacity="0.6" stroke-width="1.5"/>
<line x1="2359.4" y1="780.6" x2="2367" y2="780.6" stroke="#fff" stroke-opacity="0.6" stroke-width="1.5"/>
<text x="2379.5" y="787.1" font-family="'Liberation Sans', Arial, Helvetica, sans-serif" font-size="19" fill="#3A3A3A" stroke="#3A3A3A" stroke-width="0.5">5e−07</text>
<rect x="1156.4" y="1403.0" width="1073.1" height="1287.0" fill="#fff"/>
<line x1="1391.8" y1="1403.0" x2="1391.8" y2="2690.0" stroke="#EDEDED" stroke-width="1.1"/>
<line x1="1767.5" y1="1403.0" x2="1767.5" y2="2690.0" stroke="#EDEDED" stroke-width="1.1"/>
<line x1="2143.2" y1="1403.0" x2="2143.2" y2="2690.0" stroke="#EDEDED" stroke-width="1.1"/>
<line x1="1204.0" y1="1403.0" x2="1204.0" y2="2690.0" stroke="#EDEDED" stroke-width="1.8"/>
<line x1="1579.7" y1="1403.0" x2="1579.7" y2="2690.0" stroke="#EDEDED" stroke-width="1.8"/>
<line x1="1955.4" y1="1403.0" x2="1955.4" y2="2690.0" stroke="#EDEDED" stroke-width="1.8"/>
<line x1="1156.4" y1="1429.4" x2="2229.5" y2="1429.4" stroke="#EFEFEF" stroke-width="2.6"/>
<line x1="1156.4" y1="1473.5" x2="2229.5" y2="1473.5" stroke="#EFEFEF" stroke-width="2.6"/>
<line x1="1156.4" y1="1517.6" x2="2229.5" y2="1517.6" stroke="#EFEFEF" stroke-width="2.6"/>
<line x1="1156.4" y1="1561.7" x2="2229.5" y2="1561.7" stroke="#EFEFEF" stroke-width="2.6"/>
<line x1="1156.4" y1="1605.7" x2="2229.5" y2="1605.7" stroke="#EFEFEF" stroke-width="2.6"/>
<line x1="1156.4" y1="1649.8" x2="2229.5" y2="1649.8" stroke="#EFEFEF" stroke-width="2.6"/>
<line x1="1156.4" y1="1693.9" x2="2229.5" y2="1693.9" stroke="#EFEFEF" stroke-width="2.6"/>
<line x1="1156.4" y1="1738.0" x2="2229.5" y2="1738.0" stroke="#EFEFEF" stroke-width="2.6"/>
<line x1="1156.4" y1="1782.0" x2="2229.5" y2="1782.0" stroke="#EFEFEF" stroke-width="2.6"/>
<line x1="1156.4" y1="1826.1" x2="2229.5" y2="1826.1" stroke="#EFEFEF" stroke-width="2.6"/>
<line x1="1156.4" y1="1870.2" x2="2229.5" y2="1870.2" stroke="#EFEFEF" stroke-width="2.6"/>
<line x1="1156.4" y1="1914.3" x2="2229.5" y2="1914.3" stroke="#EFEFEF" stroke-width="2.6"/>
<line x1="1156.4" y1="1958.3" x2="2229.5" y2="1958.3" stroke="#EFEFEF" stroke-width="2.6"/>
<line x1="1156.4" y1="2002.4" x2="2229.5" y2="2002.4" stroke="#EFEFEF" stroke-width="2.6"/>
<line x1="1156.4" y1="2046.5" x2="2229.5" y2="2046.5" stroke="#EFEFEF" stroke-width="2.6"/>
<line x1="1156.4" y1="2090.6" x2="2229.5" y2="2090.6" stroke="#EFEFEF" stroke-width="2.6"/>
<line x1="1156.4" y1="2134.7" x2="2229.5" y2="2134.7" stroke="#EFEFEF" stroke-width="2.6"/>
<line x1="1156.4" y1="2178.7" x2="2229.5" y2="2178.7" stroke="#EFEFEF" stroke-width="2.6"/>
<line x1="1156.4" y1="2222.8" x2="2229.5" y2="2222.8" stroke="#EFEFEF" stroke-width="2.6"/>
<line x1="1156.4" y1="2266.9" x2="2229.5" y2="2266.9" stroke="#EFEFEF" stroke-width="2.6"/>
<line x1="1156.4" y1="2311.0" x2="2229.5" y2="2311.0" stroke="#EFEFEF" stroke-width="2.6"/>
<line x1="1156.4" y1="2355.0" x2="2229.5" y2="2355.0" stroke="#EFEFEF" stroke-width="2.6"/>
<line x1="1156.4" y1="2399.1" x2="2229.5" y2="2399.1" stroke="#EFEFEF" stroke-width="2.6"/>
<line x1="1156.4" y1="2443.2" x2="2229.5" y2="2443.2" stroke="#EFEFEF" stroke-width="2.6"/>
<line x1="1156.4" y1="2487.3" x2="2229.5" y2="2487.3" stroke="#EFEFEF" stroke-width="2.6"/>
<line x1="1156.4" y1="2531.3" x2="2229.5" y2="2531.3" stroke="#EFEFEF" stroke-width="2.6"/>
<line x1="1156.4" y1="2575.4" x2="2229.5" y2="2575.4" stroke="#EFEFEF" stroke-width="2.6"/>
<line x1="1156.4" y1="2619.5" x2="2229.5" y2="2619.5" stroke="#EFEFEF" stroke-width="2.6"/>
<line x1="1156.4" y1="2663.6" x2="2229.5" y2="2663.6" stroke="#EFEFEF" stroke-width="2.6"/>
<rect x="1204.0" y="1449.28" width="713.8" height="4.41" fill="#FF9494"/>
<rect x="1204.0" y="1493.35" width="713.8" height="4.41" fill="#FF9494"/>
<rect x="1204.0" y="1537.43" width="488.4" height="4.41" fill="#FF9494"/>
<rect x="1204.0" y="1581.51" width="488.4" height="4.41" fill="#FF9494"/>
<rect x="1204.0" y="1625.58" width="563.5" height="4.41" fill="#FF9494"/>
<rect x="1204.0" y="1669.66" width="563.5" height="4.41" fill="#FF9494"/>
<rect x="1204.0" y="1713.73" width="751.4" height="4.41" fill="#FF9494"/>
<rect x="1204.0" y="1757.81" width="751.4" height="4.41" fill="#FF9494"/>
<rect x="1204.0" y="1801.88" width="488.4" height="4.41" fill="#FF9494"/>
<rect x="1204.0" y="1845.96" width="488.4" height="4.41" fill="#FF9494"/>
<rect x="1204.0" y="1890.03" width="488.4" height="4.41" fill="#FF9494"/>
<rect x="1204.0" y="1934.11" width="488.4" height="4.41" fill="#FF9494"/>
<rect x="1204.0" y="1978.18" width="488.4" height="4.41" fill="#FF9494"/>
<rect x="1204.0" y="2022.26" width="488.4" height="4.41" fill="#FF9494"/>
<rect x="1204.0" y="2066.33" width="413.3" height="4.41" fill="#FF9497"/>
<rect x="1204.0" y="2110.41" width="375.7" height="4.41" fill="#FE949C"/>
<rect x="1204.0" y="2154.48" width="375.7" height="4.41" fill="#FD94A1"/>
<rect x="1204.0" y="2198.56" width="413.3" height="4.41" fill="#FB94A6"/>
<rect x="1204.0" y="2242.64" width="263.0" height="4.41" fill="#F994AD"/>
<rect x="1204.0" y="2286.71" width="187.8" height="4.41" fill="#F694B5"/>
<rect x="1204.0" y="2330.79" width="187.8" height="4.41" fill="#F294BC"/>
<rect x="1204.0" y="2374.86" width="225.4" height="4.41" fill="#ED94C6"/>
<rect x="1204.0" y="2418.94" width="150.3" height="4.41" fill="#E594D2"/>
<rect x="1204.0" y="2463.01" width="150.3" height="4.41" fill="#E094D9"/>
<rect x="1204.0" y="2507.09" width="187.8" height="4.41" fill="#D094E7"/>
<rect x="1204.0" y="2551.16" width="225.4" height="4.41" fill="#B994F7"/>
<rect x="1204.0" y="2595.24" width="300.6" height="4.41" fill="#A494FC"/>
<rect x="1204.0" y="2639.31" width="300.6" height="4.41" fill="#9494FF"/>
<rect x="1204.0" y="1409.61" width="864.1" height="39.67" fill="#FF0000"/>
<rect x="1204.0" y="1453.69" width="713.8" height="39.67" fill="#FF0000"/>
<rect x="1204.0" y="1497.76" width="789.0" height="39.67" fill="#FF0000"/>
<rect x="1204.0" y="1541.84" width="488.4" height="39.67" fill="#FF0000"/>
<rect x="1204.0" y="1585.91" width="751.4" height="39.67" fill="#FF0000"/>
<rect x="1204.0" y="1629.99" width="563.5" height="39.67" fill="#FF0000"/>
<rect x="1204.0" y="1674.06" width="826.5" height="39.67" fill="#FF0000"/>
<rect x="1204.0" y="1718.14" width="751.4" height="39.67" fill="#FF0000"/>
<rect x="1204.0" y="1762.21" width="976.8" height="39.67" fill="#FF0000"/>
<rect x="1204.0" y="1806.29" width="488.4" height="39.67" fill="#FF0000"/>
<rect x="1204.0" y="1850.36" width="638.7" height="39.67" fill="#FF0000"/>
<rect x="1204.0" y="1894.44" width="488.4" height="39.67" fill="#FF0000"/>
<rect x="1204.0" y="1938.52" width="638.7" height="39.67" fill="#FF0000"/>
<rect x="1204.0" y="1982.59" width="488.4" height="39.67" fill="#FF0000"/>
<rect x="1204.0" y="2026.67" width="751.4" height="39.67" fill="#FF0000"/>
<rect x="1204.0" y="2070.74" width="413.3" height="39.67" fill="#FD000D"/>
<rect x="1204.0" y="2114.82" width="375.7" height="39.67" fill="#FB001A"/>
<rect x="1204.0" y="2158.89" width="413.3" height="39.67" fill="#F80024"/>
<rect x="1204.0" y="2202.97" width="751.4" height="39.67" fill="#F50030"/>
<rect x="1204.0" y="2247.04" width="263.0" height="39.67" fill="#EB0049"/>
<rect x="1204.0" y="2291.12" width="187.8" height="39.67" fill="#E60054"/>
<rect x="1204.0" y="2335.19" width="225.4" height="39.67" fill="#DB006B"/>
<rect x="1204.0" y="2379.27" width="375.7" height="39.67" fill="#CE0082"/>
<rect x="1204.0" y="2423.34" width="150.3" height="39.67" fill="#B600A4"/>
<rect x="1204.0" y="2467.42" width="187.8" height="39.67" fill="#B600A4"/>
<rect x="1204.0" y="2511.49" width="225.4" height="39.67" fill="#6800E7"/>
<rect x="1204.0" y="2555.57" width="300.6" height="39.67" fill="#4B00F3"/>
<rect x="1204.0" y="2599.65" width="300.6" height="39.67" fill="#0000FF"/>
<rect x="1204.0" y="2643.72" width="300.6" height="39.67" fill="#0000FF"/>
<line x1="1154.4" y1="1403.0" x2="2231.5" y2="1403.0" stroke="#7A7A7A" stroke-width="2.6"/>
<line x1="1154.4" y1="2690.0" x2="2231.5" y2="2690.0" stroke="#8E8E8E" stroke-width="3"/>
<line x1="1156.4" y1="1401.7" x2="1156.4" y2="2691.5" stroke="#ADADAD" stroke-width="4"/>
<line x1="2229.5" y1="1401.7" x2="2229.5" y2="2691.5" stroke="#8E8E8E" stroke-width="3"/>
<line x1="1146.4" y1="1429.4" x2="1156.4" y2="1429.4" stroke="#666" stroke-width="3"/>
<text x="1138.3" y="1444.0" font-family="'Liberation Sans', Arial, Helvetica, sans-serif" font-size="40.77" fill="#333333" stroke="#333333" stroke-width="0.4" text-anchor="end">Staphylococcus aureus infection</text>
<line x1="1146.4" y1="1473.5" x2="1156.4" y2="1473.5" stroke="#666" stroke-width="3"/>
<text x="1138.3" y="1488.1" font-family="'Liberation Sans', Arial, Helvetica, sans-serif" font-size="40.77" fill="#333333" stroke="#333333" stroke-width="0.4" text-anchor="end">Viral protein interaction with cytokine and cytokine receptor</text>
<line x1="1146.4" y1="1517.6" x2="1156.4" y2="1517.6" stroke="#666" stroke-width="3"/>
<text x="1138.3" y="1532.2" font-family="'Liberation Sans', Arial, Helvetica, sans-serif" font-size="40.77" fill="#333333" stroke="#333333" stroke-width="0.4" text-anchor="end">Osteoclast differentiation</text>
<line x1="1146.4" y1="1561.7" x2="1156.4" y2="1561.7" stroke="#666" stroke-width="3"/>
<text x="1138.3" y="1576.3" font-family="'Liberation Sans', Arial, Helvetica, sans-serif" font-size="40.77" fill="#333333" stroke="#333333" stroke-width="0.4" text-anchor="end">Malaria</text>
<line x1="1146.4" y1="1605.7" x2="1156.4" y2="1605.7" stroke="#666" stroke-width="3"/>
<text x="1138.3" y="1620.3" font-family="'Liberation Sans', Arial, Helvetica, sans-serif" font-size="40.77" fill="#333333" stroke="#333333" stroke-width="0.4" text-anchor="end">Phagosome</text>
<line x1="1146.4" y1="1649.8" x2="1156.4" y2="1649.8" stroke="#666" stroke-width="3"/>
<text x="1138.3" y="1664.4" font-family="'Liberation Sans', Arial, Helvetica, sans-serif" font-size="40.77" fill="#333333" stroke="#333333" stroke-width="0.4" text-anchor="end">Complement and coagulation cascades</text>
<line x1="1146.4" y1="1693.9" x2="1156.4" y2="1693.9" stroke="#666" stroke-width="3"/>
<text x="1138.3" y="1708.5" font-family="'Liberation Sans', Arial, Helvetica, sans-serif" font-size="40.77" fill="#333333" stroke="#333333" stroke-width="0.4" text-anchor="end">Chemokine signaling pathway</text>
<line x1="1146.4" y1="1738.0" x2="1156.4" y2="1738.0" stroke="#666" stroke-width="3"/>
<text x="1138.3" y="1752.6" font-family="'Liberation Sans', Arial, Helvetica, sans-serif" font-size="40.77" fill="#333333" stroke="#333333" stroke-width="0.4" text-anchor="end">Tuberculosis</text>
<line x1="1146.4" y1="1782.0" x2="1156.4" y2="1782.0" stroke="#666" stroke-width="3"/>
<text x="1138.3" y="1796.6" font-family="'Liberation Sans', Arial, Helvetica, sans-serif" font-size="40.77" fill="#333333" stroke="#333333" stroke-width="0.4" text-anchor="end">Cytokine-cytokine receptor interaction</text>
<line x1="1146.4" y1="1826.1" x2="1156.4" y2="1826.1" stroke="#666" stroke-width="3"/>
<text x="1138.3" y="1840.7" font-family="'Liberation Sans', Arial, Helvetica, sans-serif" font-size="40.77" fill="#333333" stroke="#333333" stroke-width="0.4" text-anchor="end">Pertussis</text>
<line x1="1146.4" y1="1870.2" x2="1156.4" y2="1870.2" stroke="#666" stroke-width="3"/>
<text x="1138.3" y="1884.8" font-family="'Liberation Sans', Arial, Helvetica, sans-serif" font-size="40.77" fill="#333333" stroke="#333333" stroke-width="0.4" text-anchor="end">Systemic lupus erythematosus</text>
<line x1="1146.4" y1="1914.3" x2="1156.4" y2="1914.3" stroke="#666" stroke-width="3"/>
<text x="1138.3" y="1928.9" font-family="'Liberation Sans', Arial, Helvetica, sans-serif" font-size="40.77" fill="#333333" stroke="#333333" stroke-width="0.4" text-anchor="end">B cell receptor signaling pathway</text>
<line x1="1146.4" y1="1958.3" x2="1156.4" y2="1958.3" stroke="#666" stroke-width="3"/>
<text x="1138.3" y="1972.9" font-family="'Liberation Sans', Arial, Helvetica, sans-serif" font-size="40.77" fill="#333333" stroke="#333333" stroke-width="0.4" text-anchor="end">Cell adhesion molecules</text>
<line x1="1146.4" y1="2002.4" x2="1156.4" y2="2002.4" stroke="#666" stroke-width="3"/>
<text x="1138.3" y="2017.0" font-family="'Liberation Sans', Arial, Helvetica, sans-serif" font-size="40.77" fill="#333333" stroke="#333333" stroke-width="0.4" text-anchor="end">Hematopoietic cell lineage</text>
<line x1="1146.4" y1="2046.5" x2="1156.4" y2="2046.5" stroke="#666" stroke-width="3"/>
<text x="1138.3" y="2061.1" font-family="'Liberation Sans', Arial, Helvetica, sans-serif" font-size="40.77" fill="#333333" stroke="#333333" stroke-width="0.4" text-anchor="end">Coronavirus disease - COVID-19</text>
<line x1="1146.4" y1="2090.6" x2="1156.4" y2="2090.6" stroke="#666" stroke-width="3"/>
<text x="1138.3" y="2105.2" font-family="'Liberation Sans', Arial, Helvetica, sans-serif" font-size="40.77" fill="#333333" stroke="#333333" stroke-width="0.4" text-anchor="end">Leishmaniasis</text>
<line x1="1146.4" y1="2134.7" x2="1156.4" y2="2134.7" stroke="#666" stroke-width="3"/>
<text x="1138.3" y="2149.3" font-family="'Liberation Sans', Arial, Helvetica, sans-serif" font-size="40.77" fill="#333333" stroke="#333333" stroke-width="0.4" text-anchor="end">Rheumatoid arthritis</text>
<line x1="1146.4" y1="2178.7" x2="1156.4" y2="2178.7" stroke="#666" stroke-width="3"/>
<text x="1138.3" y="2193.3" font-family="'Liberation Sans', Arial, Helvetica, sans-serif" font-size="40.77" fill="#333333" stroke="#333333" stroke-width="0.4" text-anchor="end">Platelet activation</text>
<line x1="1146.4" y1="2222.8" x2="1156.4" y2="2222.8" stroke="#666" stroke-width="3"/>
<text x="1138.3" y="2237.4" font-family="'Liberation Sans', Arial, Helvetica, sans-serif" font-size="40.77" fill="#333333" stroke="#333333" stroke-width="0.4" text-anchor="end">Neuroactive ligand-receptor interaction</text>
<line x1="1146.4" y1="2266.9" x2="1156.4" y2="2266.9" stroke="#666" stroke-width="3"/>
<text x="1138.3" y="2281.5" font-family="'Liberation Sans', Arial, Helvetica, sans-serif" font-size="40.77" fill="#333333" stroke="#333333" stroke-width="0.4" text-anchor="end">Arachidonic acid metabolism</text>
<line x1="1146.4" y1="2311.0" x2="1156.4" y2="2311.0" stroke="#666" stroke-width="3"/>
<text x="1138.3" y="2325.6" font-family="'Liberation Sans', Arial, Helvetica, sans-serif" font-size="40.77" fill="#333333" stroke="#333333" stroke-width="0.4" text-anchor="end">Asthma</text>
<line x1="1146.4" y1="2355.0" x2="1156.4" y2="2355.0" stroke="#666" stroke-width="3"/>
<text x="1138.3" y="2369.6" font-family="'Liberation Sans', Arial, Helvetica, sans-serif" font-size="40.77" fill="#333333" stroke="#333333" stroke-width="0.4" text-anchor="end">Intestinal immune network for IgA production</text>
<line x1="1146.4" y1="2399.1" x2="1156.4" y2="2399.1" stroke="#666" stroke-width="3"/>
<text x="1138.3" y="2413.7" font-family="'Liberation Sans', Arial, Helvetica, sans-serif" font-size="40.77" fill="#333333" stroke="#333333" stroke-width="0.4" text-anchor="end">Natural killer cell mediated cytotoxicity</text>
<line x1="1146.4" y1="2443.2" x2="1156.4" y2="2443.2" stroke="#666" stroke-width="3"/>
<text x="1138.3" y="2457.8" font-family="'Liberation Sans', Arial, Helvetica, sans-serif" font-size="40.77" fill="#333333" stroke="#333333" stroke-width="0.4" text-anchor="end">Renin-angiotensin system</text>
<line x1="1146.4" y1="2487.3" x2="1156.4" y2="2487.3" stroke="#666" stroke-width="3"/>
<text x="1138.3" y="2501.9" font-family="'Liberation Sans', Arial, Helvetica, sans-serif" font-size="40.77" fill="#333333" stroke="#333333" stroke-width="0.4" text-anchor="end">Allograft rejection</text>
<line x1="1146.4" y1="2531.3" x2="1156.4" y2="2531.3" stroke="#666" stroke-width="3"/>
<text x="1138.3" y="2545.9" font-family="'Liberation Sans', Arial, Helvetica, sans-serif" font-size="40.77" fill="#333333" stroke="#333333" stroke-width="0.4" text-anchor="end">Viral myocarditis</text>
<line x1="1146.4" y1="2575.4" x2="1156.4" y2="2575.4" stroke="#666" stroke-width="3"/>
<text x="1138.3" y="2590.0" font-family="'Liberation Sans', Arial, Helvetica, sans-serif" font-size="40.77" fill="#333333" stroke="#333333" stroke-width="0.4" text-anchor="end">Chagas disease</text>
<line x1="1146.4" y1="2619.5" x2="1156.4" y2="2619.5" stroke="#666" stroke-width="3"/>
<text x="1138.3" y="2634.1" font-family="'Liberation Sans', Arial, Helvetica, sans-serif" font-size="40.77" fill="#333333" stroke="#333333" stroke-width="0.4" text-anchor="end">C-type lectin receptor signaling pathway</text>
<line x1="1146.4" y1="2663.6" x2="1156.4" y2="2663.6" stroke="#666" stroke-width="3"/>
<text x="1138.3" y="2678.2" font-family="'Liberation Sans', Arial, Helvetica, sans-serif" font-size="40.77" fill="#333333" stroke="#333333" stroke-width="0.4" text-anchor="end">T cell receptor signaling pathway</text>
<line x1="1204.0" y1="2690.0" x2="1204.0" y2="2700.5" stroke="#666" stroke-width="3"/>
<text x="1204.0" y="2737.7" font-family="'Liberation Sans', Arial, Helvetica, sans-serif" font-size="40" fill="#333333" stroke="#333333" stroke-width="0.4" text-anchor="middle">0</text>
<line x1="1579.7" y1="2690.0" x2="1579.7" y2="2700.5" stroke="#666" stroke-width="3"/>
<text x="1579.7" y="2737.7" font-family="'Liberation Sans', Arial, Helvetica, sans-serif" font-size="40" fill="#333333" stroke="#333333" stroke-width="0.4" text-anchor="middle">10</text>
<line x1="1955.4" y1="2690.0" x2="1955.4" y2="2700.5" stroke="#666" stroke-width="3"/>
<text x="1955.4" y="2737.7" font-family="'Liberation Sans', Arial, Helvetica, sans-serif" font-size="40" fill="#333333" stroke="#333333" stroke-width="0.4" text-anchor="middle">20</text>
<text y="1892.3" font-family="'Liberation Serif', 'Times New Roman', serif" font-size="46.8" font-weight="bold" fill="#000"><tspan x="2262.8" font-style="italic">p </tspan><tspan x="2299.7">adjust</tspan></text>
<rect x="2285.3" y="1927.6" width="59.1" height="291.6" fill="url(#gb)"/>
<line x1="2285.3" y1="1998.6" x2="2297.1" y2="1998.6" stroke="#fff" stroke-opacity="0.6" stroke-width="2"/>
<line x1="2332.6" y1="1998.6" x2="2344.4" y2="1998.6" stroke="#fff" stroke-opacity="0.6" stroke-width="2"/>
<text x="2362.3" y="2009.4" font-family="'Liberation Sans', Arial, Helvetica, sans-serif" font-size="29.5" fill="#333333" stroke="#333333" stroke-width="0.4">0.01</text>
<line x1="2285.3" y1="2069.5" x2="2297.1" y2="2069.5" stroke="#fff" stroke-opacity="0.6" stroke-width="2"/>
<line x1="2332.6" y1="2069.5" x2="2344.4" y2="2069.5" stroke="#fff" stroke-opacity="0.6" stroke-width="2"/>
<text x="2362.3" y="2080.3" font-family="'Liberation Sans', Arial, Helvetica, sans-serif" font-size="29.5" fill="#333333" stroke="#333333" stroke-width="0.4">0.02</text>
<line x1="2285.3" y1="2140.4" x2="2297.1" y2="2140.4" stroke="#fff" stroke-opacity="0.6" stroke-width="2"/>
<line x1="2332.6" y1="2140.4" x2="2344.4" y2="2140.4" stroke="#fff" stroke-opacity="0.6" stroke-width="2"/>
<text x="2362.3" y="2151.2" font-family="'Liberation Sans', Arial, Helvetica, sans-serif" font-size="29.5" fill="#333333" stroke="#333333" stroke-width="0.4">0.03</text>
<line x1="2285.3" y1="2211.3" x2="2297.1" y2="2211.3" stroke="#fff" stroke-opacity="0.6" stroke-width="2"/>
<line x1="2332.6" y1="2211.3" x2="2344.4" y2="2211.3" stroke="#fff" stroke-opacity="0.6" stroke-width="2"/>
<text x="2362.3" y="2222.1" font-family="'Liberation Sans', Arial, Helvetica, sans-serif" font-size="29.5" fill="#333333" stroke="#333333" stroke-width="0.4">0.04</text>
<text x="59" y="84.2" font-family="'Liberation Serif', 'Times New Roman', serif" font-size="93" font-weight="bold" fill="#000">(a)</text>
<text x="45.8" y="1343.3" font-family="'Liberation Serif', 'Times New Roman', serif" font-size="93" font-weight="bold" fill="#000">(b)</text></svg>
</body></html>
